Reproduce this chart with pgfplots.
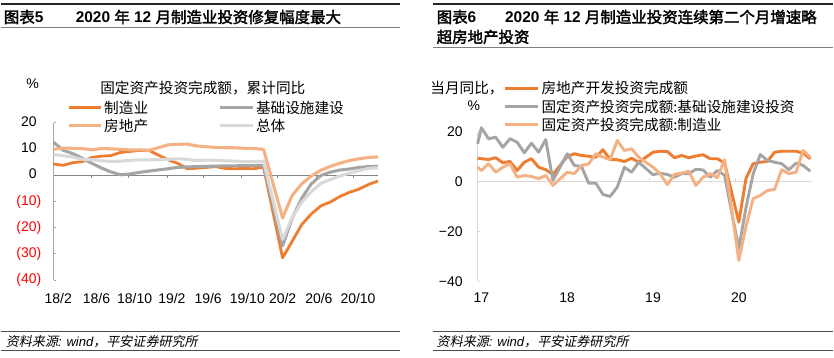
\documentclass[border=0pt]{standalone}
\usepackage{pgfplots}
\pgfplotsset{compat=1.18}
\usepackage{fontspec}
\setmainfont{Liberation Sans}
\newfontfamily\cjk[AutoFakeBold=2.2,AutoFakeSlant=0.2]{Noto Sans CJK SC}
\definecolor{cOr}{HTML}{ED7D31}
\definecolor{cPe}{HTML}{F4B183}
\definecolor{cGr}{HTML}{A5A5A5}
\definecolor{cLg}{HTML}{D9D9D9}
\definecolor{yax}{HTML}{A6A6A6}
\definecolor{zax}{HTML}{868686}
\newcommand\tk{\fontsize{10.5}{12}\selectfont}
\newcommand\lgf{\cjk\fontsize{11}{13}\selectfont}
\newcommand\ttl{\fontsize{11.6}{14}\selectfont\bfseries}
\newcommand\foot{\fontsize{9.8}{12}\selectfont\itshape}
\begin{document}
\begin{tikzpicture}[x=0.75pt,y=-0.75pt]
\path (0,0) rectangle (834,358);
% ---------- rules and titles
\draw[line width=0.9pt,black!85] (0,4) -- (400,4);
\draw[line width=0.75pt,black!50] (0,28) -- (400,28);
\draw[line width=0.75pt,black!70] (0,332) -- (400,332);
\draw[line width=0.75pt,black!70] (0,351) -- (400,351);
\draw[line width=0.9pt,black!85] (433,4) -- (834,4);
\draw[line width=0.75pt,black!50] (433,48) -- (834,48);
\draw[line width=0.75pt,black!70] (433,332) -- (834,332);
\draw[line width=0.75pt,black!70] (433,351) -- (834,351);
\node[anchor=west,inner sep=0] at (3,17) {\ttl{\cjk 图表}5};
\node[anchor=west,inner sep=0] at (75,17) {\ttl 2020 {\cjk 年} 12 {\cjk 月制造业投资修复幅度最大}};
\node[anchor=west,inner sep=0] at (436.5,17) {\ttl{\cjk 图表}6};
\node[anchor=west,inner sep=0] at (505,17) {\ttl 2020 {\cjk 年} 12 {\cjk 月制造业投资连续第二个月增速略}};
\node[anchor=west,inner sep=0] at (436.5,37) {\ttl{\cjk 超房地产投资}};
\node[anchor=west,inner sep=0] at (5,342) {\foot{\cjk 资料来源}: wind{\cjk ，平安证券研究所}};
\node[anchor=west,inner sep=0] at (436.5,342) {\foot{\cjk 资料来源}: wind{\cjk ，平安证券研究所}};
% ---------- left chart
\begin{axis}[
  at={(39.75pt,-210.375pt)}, anchor=south west, scale only axis,
  width=243.75pt, height=118.1pt,
  xmin=0, xmax=34, ymin=-40, ymax=20,
  axis lines*=left,
  x axis line style={draw=none},
  y axis line style={draw=yax, line width=0.6pt},
  tick align=inside, major tick length=2pt,
  xtick={0.5,4.5,8.5,12.4,16.2,20.3,24,27.8,31.9},
  xticklabels={18/2,18/6,18/10,19/2,19/6,19/10,20/2,20/6,20/10},
  major x tick style={draw=none},
  xticklabel style={anchor=center, inner sep=0pt, yshift=-14pt, font=\tk},
  ytick={-40,-30,-20,-10,0,10,20},
  yticklabels={\textcolor{red}{(40)},\textcolor{red}{(30)},\textcolor{red}{(20)},\textcolor{red}{(10)},0\phantom{)},10\phantom{)},20\phantom{)}},
  y tick style={draw=yax, line width=0.6pt},
  yticklabel style={anchor=east, inner sep=0pt, xshift=-9pt, font=\tk},
  clip=false,
]
\draw[zax, line width=0.7pt] (axis cs:0,0) -- (axis cs:34,0);
\pgfplotsinvokeforeach{3.94,7.85,11.9,15.7,19.7,23.5,27.5,31.4}{
  \draw[zax, line width=0.6pt] (axis cs:#1,0) -- ++(0pt,-2.2pt);
}
\addplot[cOr, line width=2.1pt, line join=round] coordinates {
(0,4.3)(1,3.8)(2,4.8)(3,5.2)(4,6.8)(5,7.3)(6,7.5)(7,8.7)(8,9.1)(9,9.5)(10,9.5)
(12,5.9)(13,4.6)(14,2.5)(15,2.7)(16,3.0)(17,3.3)(18,2.6)(19,2.5)(20,2.6)(21,2.5)(22,3.1)
(24,-31.5)(25,-25.2)(26,-18.8)(27,-14.8)(28,-11.7)(29,-10.2)(30,-8.1)(31,-6.5)(32,-5.3)(33,-3.5)(34,-2.2)};
\addplot[cGr, line width=2.3pt, line join=round] coordinates {
(0,12.6)(1,9.6)(2,8.3)(3,6.5)(4,4.6)(5,2.8)(6,1.3)(7,0.2)(8,0.5)(9,1.1)(10,1.6)
(12,2.5)(13,3.0)(14,3.2)(15,3.3)(16,3.4)(17,3.5)(18,3.6)(19,3.6)(20,3.7)(21,3.7)(22,3.8)
(24,-26.9)(25,-16.4)(26,-8.8)(27,-3.3)(28,-0.1)(29,1.2)(30,2.0)(31,2.4)(32,3.0)(33,3.3)(34,3.4)};
\addplot[cPe, line width=2.3pt, line join=round] coordinates {
(0,9.9)(1,10.4)(2,10.3)(3,10.2)(4,9.7)(5,10.2)(6,10.1)(7,9.9)(8,9.7)(9,9.7)(10,9.5)
(12,11.6)(13,11.8)(14,11.9)(15,11.2)(16,10.9)(17,10.6)(18,10.5)(19,10.5)(20,10.3)(21,10.2)(22,9.9)
(24,-16.3)(25,-7.7)(26,-3.3)(27,-0.3)(28,1.9)(29,3.4)(30,4.6)(31,5.6)(32,6.3)(33,6.8)(34,7.0)};
\addplot[cLg, line width=2.3pt, line join=round] coordinates {
(0,7.9)(1,7.5)(2,7.0)(3,6.1)(4,6.0)(5,5.5)(6,5.3)(7,5.4)(8,5.7)(9,5.9)(10,5.9)
(12,6.1)(13,6.3)(14,6.1)(15,5.6)(16,5.8)(17,5.7)(18,5.5)(19,5.4)(20,5.2)(21,5.2)(22,5.4)
(24,-24.5)(25,-16.1)(26,-10.3)(27,-6.3)(28,-3.1)(29,-1.6)(30,-0.3)(31,0.8)(32,1.8)(33,2.6)(34,2.9)};
\end{axis}
% left legend
\node[inner sep=0] at (32,84) {\tk\%};
\node[inner sep=0] at (202.5,88) {\lgf 固定资产投资完成额，累计同比};
\draw[cOr, line width=2.1pt] (68,108) -- (101,108);
\node[anchor=west,inner sep=0] at (103.5,108) {\lgf 制造业};
\draw[cGr, line width=2.3pt] (220,108) -- (253,108);
\node[anchor=west,inner sep=0] at (255.5,108) {\lgf 基础设施建设};
\draw[cPe, line width=2.3pt] (68,126) -- (101,126);
\node[anchor=west,inner sep=0] at (103.5,126) {\lgf 房地产};
\draw[cLg, line width=2.3pt] (220,126) -- (253,126);
\node[anchor=west,inner sep=0] at (255.5,126) {\lgf 总体};
% ---------- right chart
\begin{axis}[
  at={(358.275pt,-211.275pt)}, anchor=south west, scale only axis,
  width=251.5pt, height=112.5pt,
  xmin=0.47, xmax=47.3, ymin=-40, ymax=20,
  axis lines*=left,
  x axis line style={draw=none},
  y axis line style={draw=cLg, line width=0.7pt},
  tick align=inside, major tick length=2pt,
  xtick={1,13,25,37},
  xticklabels={17,18,19,20},
  major x tick style={draw=none},
  xticklabel style={anchor=center, inner sep=0pt, yshift=-12.2pt, font=\tk},
  ytick={-40,-20,0,20},
  yticklabels={−40,−20,0,20},
  y tick style={draw=cLg, line width=0.6pt},
  yticklabel style={anchor=east, inner sep=0pt, xshift=-11pt, font=\tk},
  clip=false,
]
\draw[cLg, line width=0.7pt] (axis cs:0.47,0) -- (axis cs:47.3,0);
\pgfplotsinvokeforeach{12.5,24.5,36.5}{
  \draw[cLg, line width=0.6pt] (axis cs:#1,0) -- ++(0pt,2.4pt);
}
\addplot[cOr, line width=2.2pt, line join=round] coordinates {
(0.47,9.3)(1,9.1)(2,8.8)(3,9.5)(4,7.5)(5,8.0)(6,4.4)(7,7.7)(8,9.1)(9,5.7)(10,4.7)(11,2.8)
(13,10.0)(14,11.1)(15,10.4)(16,10.1)(17,9.7)(18,12.7)(19,8.8)(20,8.7)(21,8.0)(22,9.3)(23,7.7)
(25,11.7)(26,12.1)(27,12.0)(28,9.5)(29,10.4)(30,9.5)(31,10.2)(32,10.7)(33,9.1)(34,9.1)(35,7.4)
(37,-16.3)(38,1.1)(39,7.1)(40,7.7)(41,8.0)(42,11.7)(43,12.1)(44,12.1)(45,12.1)(46,11.3)(47,9.1)};
\addplot[cGr, line width=2.2pt, line join=round] coordinates {
(0.47,15.1)(1,21.5)(2,17.1)(3,17.7)(4,13.7)(5,17.1)(6,15.7)(7,11.5)(8,15.3)(9,11.7)(10,16.8)(11,0.4)
(13,11.1)(14,6.4)(15,6.0)(16,-0.7)(17,-0.7)(18,-5.2)(19,-6.0)(20,-2.3)(21,5.7)(22,3.7)(23,7.7)
(25,2.7)(26,3.3)(27,2.8)(28,1.7)(29,3.1)(30,3.1)(31,4.9)(32,4.6)(33,1.7)(34,4.4)(35,2.5)
(37,-26.9)(38,-10.5)(39,3.0)(40,10.8)(41,8.4)(42,7.7)(43,7.1)(44,4.7)(45,7.3)(46,6.4)(47,4.1)};
\addplot[cPe, line width=2.2pt, line join=round] coordinates {
(0.47,5.7)(1,4.4)(2,7.1)(3,3.7)(4,5.7)(5,7.1)(6,1.7)(7,2.4)(8,2.0)(9,1.1)(10,2.4)(11,-1.6)
(13,3.7)(14,3.1)(15,6.4)(16,7.0)(17,11.1)(18,9.7)(19,8.7)(20,16.4)(21,12.4)(22,13.1)(23,9.7)
(25,5.7)(26,3.1)(27,-1.3)(28,2.8)(29,3.3)(30,4.1)(31,-1.6)(32,1.7)(33,3.1)(34,1.5)(35,8.7)
(37,-31.6)(38,-18.0)(39,-6.9)(40,-5.6)(41,-3.6)(42,-3.2)(43,4.7)(44,3.1)(45,3.7)(46,12.4)(47,9.7)};
\end{axis}
% right legend
\node[anchor=east,inner sep=0] at (504,88.3) {\lgf 当月同比，};
\node[inner sep=0] at (474,106) {\tk\%};
\draw[cOr, line width=2.2pt] (505,88.3) -- (538,88.3);
\node[anchor=west,inner sep=0] at (541.5,88.3) {\lgf 房地产开发投资完成额};
\draw[cGr, line width=2.2pt] (505,106.7) -- (538,106.7);
\node[anchor=west,inner sep=0] at (541.5,106.7) {\lgf 固定资产投资完成额:基础设施建设投资};
\draw[cPe, line width=2.2pt] (505,125) -- (538,125);
\node[anchor=west,inner sep=0] at (541.5,125) {\lgf 固定资产投资完成额:制造业};
\end{tikzpicture}
\end{document}
